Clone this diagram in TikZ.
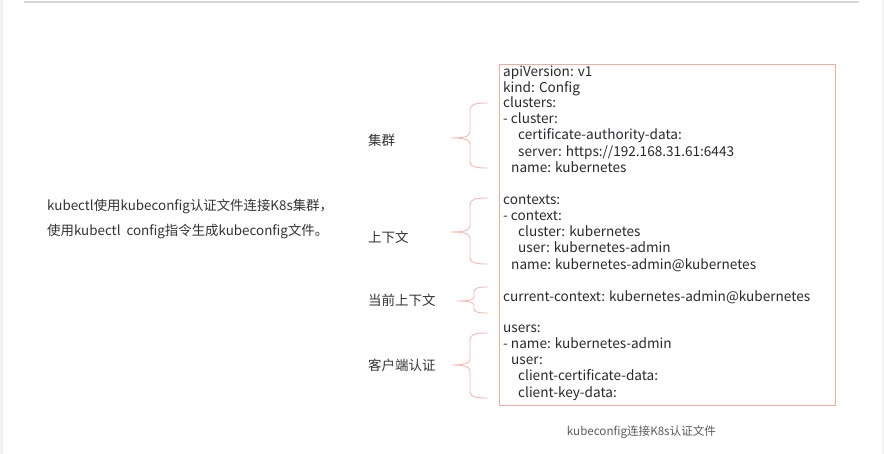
\documentclass[tikz,border=0pt]{standalone}
\usepackage{fontspec}
\setmainfont{Noto Sans CJK SC}
\definecolor{boxred}{RGB}{246,170,162}
\definecolor{bracered}{RGB}{247,185,178}
\definecolor{txt}{RGB}{51,51,51}
\definecolor{codetxt}{RGB}{40,40,48}
\definecolor{capgrey}{RGB}{90,90,90}
\definecolor{edge}{RGB}{242,242,242}
\definecolor{topline}{RGB}{214,214,214}
\begin{document}
\begin{tikzpicture}[x=1pt,y=-1pt,
  code/.style={anchor=west,inner sep=0pt,text height=10pt,text depth=3pt,font=\fontsize{13.6}{16}\selectfont,text=codetxt},
  lbl/.style={anchor=west,inner sep=0pt,font=\fontsize{13.5}{16}\selectfont,text=txt},
  bracestyle/.style={draw=bracered,line width=0.9pt},
  frame/.style={draw=boxred,line width=1.2pt}]
\useasboundingbox (0,0) rectangle (884,454);
\fill[edge] (0,0) rectangle (2.5,454);
\fill[edge] (881.5,0) rectangle (884,454);
\draw[topline,line width=1.8pt] (24,1.8) -- (859,1.8);
% main box
\node[frame,minimum width=336pt,minimum height=341pt,inner sep=0pt,anchor=north west] (box) at (499,64) {};
% code lines
\node[code] (l1) at (503,73) {apiVersion: v1};
\node[code] (l2) at (503,89) {kind: Config};
\node[code] (l3) at (503,104.5) {clusters:};
\node[code] (l4) at (503,120.5) {- cluster:};
\node[code] (l5) at (518,136.5) {certificate-authority-data:};
\node[code] (l6) at (518,153) {server: https://192.168.31.61:6443};
\node[code] (l7) at (511,169) {name: kubernetes};
\node[code] (l8) at (503,201) {contexts:};
\node[code] (l9) at (503,217) {- context:};
\node[code] (l10) at (518,233) {cluster: kubernetes};
\node[code] (l11) at (518,249) {user: kubernetes-admin};
\node[code] (l12) at (511,266) {name: kubernetes-admin@kubernetes};
\node[code] (l13) at (503,298) {current-context: kubernetes-admin@kubernetes};
\node[code] (l14) at (503,329) {users:};
\node[code] (l15) at (503,345) {- name: kubernetes-admin};
\node[code] (l16) at (511,361) {user:};
\node[code] (l17) at (518,377.5) {client-certificate-data:};
\node[code] (l18) at (518,393.5) {client-key-data:};
% labels
\node[lbl] (jq) at (368,140) {集群};
\node[lbl] (sxw) at (368,237) {上下文};
\node[lbl] (dq) at (368,300) {当前上下文};
\node[lbl] (kh) at (368,365) {客户端认证};
% braces
\draw[bracestyle] (488,103) .. controls (476,103) and (470,104) .. (470,110) -- (470,132) .. controls (470,137) and (462,138) .. (451,138) .. controls (462,138) and (470,139) .. (470,144) -- (470,162) .. controls (470,167) and (476,168) .. (488,168);
\draw[bracestyle] (488,198) .. controls (476,198) and (470,199) .. (470,205) -- (470,226) .. controls (470,231) and (462,232) .. (451,232) .. controls (462,232) and (470,233) .. (470,238) -- (470,258) .. controls (470,263) and (476,264) .. (488,264);
\draw[bracestyle] (488,287) .. controls (478,287) and (474,288) .. (474,292) -- (474,297) .. controls (474,300) and (468,301) .. (457,301) .. controls (468,301) and (474,302) .. (474,305) -- (474,309) .. controls (474,312) and (478,313) .. (488,313);
\draw[bracestyle] (488,333) .. controls (476,333) and (470,334) .. (470,340) -- (470,359) .. controls (470,364) and (462,365) .. (452,365) .. controls (462,365) and (470,366) .. (470,371) -- (470,392) .. controls (470,397) and (476,398) .. (488,398);
% left description
\node[lbl,font=\fontsize{13.4}{25}\selectfont,align=left,anchor=north west] (desc) at (47,198.5) {kubectl使用kubeconfig认证文件连接K8s集群，\\使用kubectl\ \ config指令生成kubeconfig文件。};
% caption
\node[anchor=center,inner sep=0pt,font=\fontsize{11.6}{13}\selectfont,text=capgrey] (cap) at (641.5,432) {kubeconfig连接K8s认证文件};
\end{tikzpicture}
\end{document}
